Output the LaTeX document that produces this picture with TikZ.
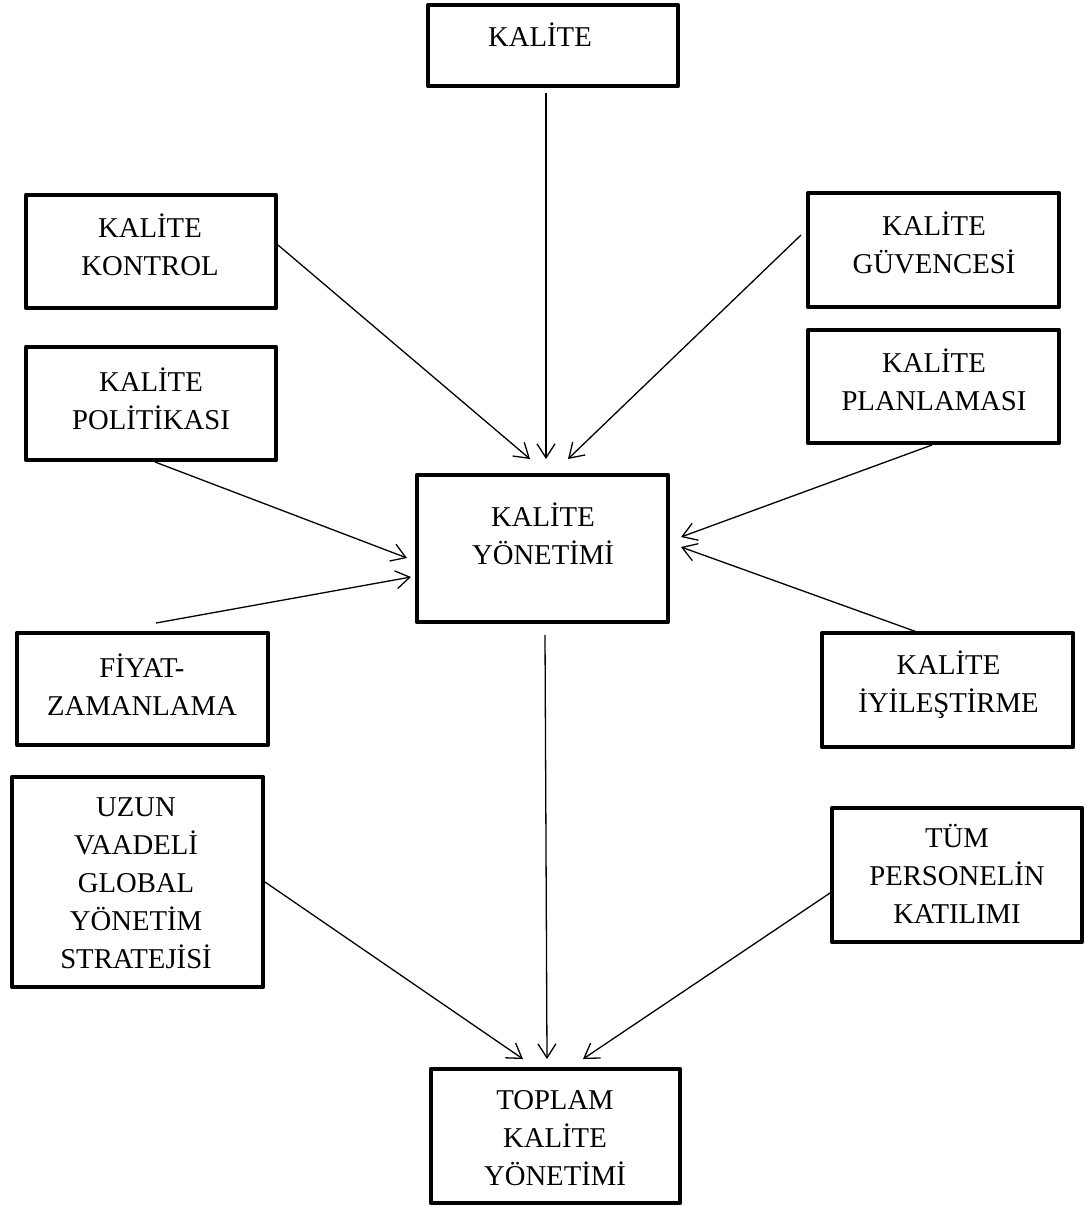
\documentclass[tikz,border=0pt]{standalone}
\usepackage{fontspec}
\setmainfont{Liberation Serif}
\usetikzlibrary{arrows.meta,calc}
\begin{document}
\begin{tikzpicture}[x=1pt,y=-1pt,
  box/.style={draw, line width=4.5pt, line join=round, inner sep=0pt, outer sep=0pt, anchor=north west},
  % labels are placed by the baseline of their last line
  lbl/.style={align=center, anchor=base, inner sep=0pt, font=\fontsize{28.7}{38}\selectfont},
  arr/.style={line width=1.3pt, -{Straight Barb[length=14pt,width=18pt]}}]
\useasboundingbox (0,0) rectangle (1086,1206);

% boxes
\node[box, minimum width=250pt, minimum height=81pt]  (topbox)      at (428,5) {};
\node[box, minimum width=251pt, minimum height=147pt] (mgmt)        at (417,475) {};
\node[box, minimum width=250pt, minimum height=113pt] (kontrol)     at (26,195) {};
\node[box, minimum width=250pt, minimum height=113pt] (politika)    at (26,347) {};
\node[box, minimum width=251pt, minimum height=114pt] (guvence)     at (808,193) {};
\node[box, minimum width=251pt, minimum height=113pt] (planlama)    at (808,330) {};
\node[box, minimum width=251pt, minimum height=112pt] (fiyat)       at (17,633) {};
\node[box, minimum width=251pt, minimum height=114pt] (iyilestirme) at (822,633) {};
\node[box, minimum width=251pt, minimum height=210pt] (uzun)        at (12,777) {};
\node[box, minimum width=250pt, minimum height=134pt] (tum)         at (832,808) {};
\node[box, minimum width=249pt, minimum height=134pt] (tkm)         at (431,1069) {};

% labels
\node[lbl] (topbox-t)      at (540,46.5)    {KALİTE};
\node[lbl] (mgmt-t)        at (543,564)     {KALİTE\\YÖNETİMİ};
\node[lbl] (kontrol-t)     at (150,275)     {KALİTE\\KONTROL};
\node[lbl] (politika-t)    at (151,429)     {KALİTE\\POLİTİKASI};
\node[lbl] (guvence-t)     at (934,273)     {KALİTE\\GÜVENCESİ};
\node[lbl] (planlama-t)    at (934,410)     {KALİTE\\PLANLAMASI};
\node[lbl] (fiyat-t)       at (142,715)     {FİYAT-\\ZAMANLAMA};
\node[lbl] (iyilestirme-t) at (948.5,712.5) {KALİTE\\İYİLEŞTİRME};
\node[lbl] (uzun-t)        at (136,968.5)   {UZUN\\VAADELİ\\GLOBAL\\YÖNETİM\\STRATEJİSİ};
\node[lbl] (tum-t)         at (957,923.5)   {TÜM\\PERSONELİN\\KATILIMI};
\node[lbl] (tkm-t)         at (555,1185.5)  {TOPLAM\\KALİTE\\YÖNETİMİ};

% connectors into the central box
\draw[arr] ($(topbox.south)+(-7,7)$)      -- ($(mgmt.north)+(3.5,-16)$);
\draw[arr] ($(kontrol.east)+(2,-6.5)$)    -- ($(mgmt.north)+(-12.5,-16)$);
\draw[arr] ($(guvence.west)+(-7,-15)$)    -- ($(mgmt.north)+(25.5,-16)$);
\draw[arr] ($(politika.south)+(4,2)$)     -- ($(mgmt.west)+(-10,9.5)$);
\draw[arr] ($(fiyat.north)+(13.5,-10)$)   -- ($(mgmt.west)+(-6,28.5)$);
\draw[arr] ($(planlama.south)+(-1.5,2)$)  -- ($(mgmt.east)+(13,-11.5)$);
\draw[arr] ($(iyilestirme.north)+(-30.5,-1)$) -- ($(mgmt.east)+(13,-1.5)$);

% connectors into the bottom box
\draw[arr] ($(mgmt.south)+(2.5,13)$)      -- ($(tkm.north)+(-8.5,-10)$);
\draw[arr] ($(uzun.east)+(2,0)$)          -- ($(tkm.north)+(-32.5,-10)$);
\draw[arr] ($(tum.west)+(-2,18)$)         -- ($(tkm.north)+(27.5,-10)$);
\end{tikzpicture}
\end{document}
